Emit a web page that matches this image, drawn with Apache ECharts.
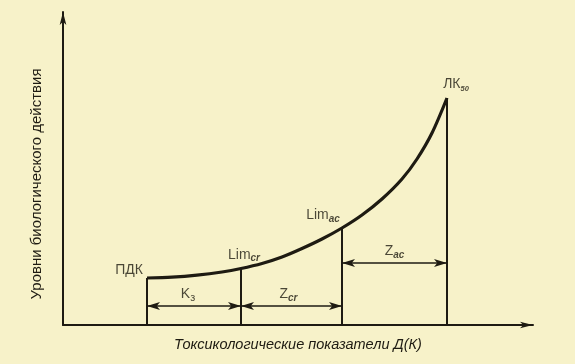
<!DOCTYPE html>
<html>
<head>
<meta charset="utf-8">
<script src="https://cdn.jsdelivr.net/npm/echarts@6/dist/echarts.min.js"></script>
<style>
html,body{margin:0;padding:0;background:#f7f2c9;}
#c{width:575px;height:364px;}
</style>
</head>
<body>
<div id="c"></div>
<script>
// Dose-response curve (schematic units)
const curveX = [84, 109, 134, 159, 178, 199, 219, 239, 259, 279, 299, 319, 339, 354, 369, 384];
const curveY = [47, 47.8, 49.8, 53, 56.5, 61.5, 68, 76.5, 86, 97, 110, 126, 146, 166, 192, 227];

// Characteristic levels on the curve
const levelNames = ['ПДК', 'Lim', 'Lim', 'ЛК'];
const levelSubs  = ['', 'cr', 'ac', '50'];
const levelX = [84, 178, 279, 384];
const levelY = [47, 56.5, 97, 227];

// Intervals between levels (zones)
const zoneNames = ['K', 'Z', 'Z'];
const zoneSubs  = ['з', 'cr', 'ac'];
const zoneFrom  = [0, 1, 2];
const zoneTo    = [1, 2, 3];
const zoneY     = [19, 19, 62];

const xTitle = 'Токсикологические показатели Д(К)';
const yTitle = 'Уровни биологического действия';

const ink = '#1e1b12';
const font = 'Liberation Sans, Arial, sans-serif';

const chart = echarts.init(document.getElementById('c'));

const vLines = levelX.map((x, i) => [{coord: [x, 0]}, {coord: [x, levelY[i]]}]);
const zLines = zoneFrom.map((f, i) => [{coord: [levelX[f], zoneY[i]]}, {coord: [levelX[zoneTo[i]], zoneY[i]]}]);

const levelLabelCfg = [
  {position: 'left', distance: 4, offset: [0, -8]},
  {position: 'top', distance: 6, offset: [3, 1]},
  {position: 'top', distance: 4, offset: [-19, 0]},
  {position: 'top', distance: 5, offset: [9, 0]}
];

const rich = {
  a: {fontSize: 14, color: ink, fontFamily: font, lineHeight: 17},
  s: {fontSize: 10, color: ink, fontFamily: font, fontStyle: 'italic', fontWeight: 'bold', lineHeight: 17, verticalAlign: 'bottom', padding: [6, 0, 0, 0]},
  t: {fontSize: 7.5, color: ink, fontFamily: font, fontStyle: 'italic', fontWeight: 'bold', lineHeight: 17, verticalAlign: 'bottom', padding: [5, 0, 0, 0]},
  k: {fontSize: 11, color: ink, fontFamily: font, lineHeight: 17, verticalAlign: 'bottom', padding: [6, 0, 0, 0]}
};

chart.setOption({
  backgroundColor: '#f7f2c9',
  animation: false,
  grid: {left: 63, top: 12, width: 470, height: 313},
  xAxis: {
    type: 'value', min: 0, max: 470,
    axisLine: {show: true, symbol: ['none', 'arrow'], symbolSize: [5, 13], lineStyle: {color: ink, width: 2}},
    axisTick: {show: false}, axisLabel: {show: false}, splitLine: {show: false},
    name: xTitle, nameLocation: 'middle', nameGap: 12,
    nameTextStyle: {fontSize: 14.5, fontStyle: 'italic', color: ink, fontFamily: font}
  },
  yAxis: {
    type: 'value', min: 0, max: 313,
    axisLine: {show: true, symbol: ['none', 'arrow'], symbolSize: [5, 13], lineStyle: {color: ink, width: 2}},
    axisTick: {show: false}, axisLabel: {show: false}, splitLine: {show: false}
  },
  graphic: [{
    type: 'text', x: 37, y: 184, rotation: Math.PI / 2,
    style: {text: yTitle, fontSize: 15, fill: ink, fontFamily: font, align: 'center', verticalAlign: 'middle'}
  }],
  series: [
    {
      type: 'line', smooth: 0.3, symbol: 'none',
      data: curveX.map((x, i) => [x, curveY[i]]),
      lineStyle: {color: ink, width: 3.2}
    },
    {
      type: 'scatter', symbolSize: 0, silent: true,
      data: levelX.map((x, i) => ({
        value: [x, levelY[i]],
        label: Object.assign({
          show: true, color: ink,
          formatter: levelSubs[i] ? '{a|' + levelNames[i] + '}{' + (i === 3 ? 't' : 's') + '|' + levelSubs[i] + '}' : '{a|' + levelNames[i] + '}',
          rich: rich
        }, levelLabelCfg[i])
      })),
      markLine: {
        silent: true, symbol: ['none', 'none'], label: {show: false},
        lineStyle: {color: ink, width: 2, type: 'solid'},
        data: vLines
      }
    },
    {
      type: 'scatter', symbolSize: 0, silent: true,
      data: zoneFrom.map((f, i) => ({
        value: [(levelX[f] + levelX[zoneTo[i]]) / 2, zoneY[i]],
        label: {
          show: true, color: ink, position: 'top', distance: 3, offset: [i === 0 ? -6 : (i === 1 ? -3 : 0), 0],
          formatter: '{a|' + zoneNames[i] + '}{' + (i === 0 ? 'k' : 's') + '|' + zoneSubs[i] + '}',
          rich: rich
        }
      })),
      markLine: {
        silent: true, symbol: ['arrow', 'arrow'], symbolSize: [6, 13], label: {show: false},
        lineStyle: {color: ink, width: 1.6, type: 'solid'},
        data: zLines
      }
    }
  ]
});
</script>
</body>
</html>
